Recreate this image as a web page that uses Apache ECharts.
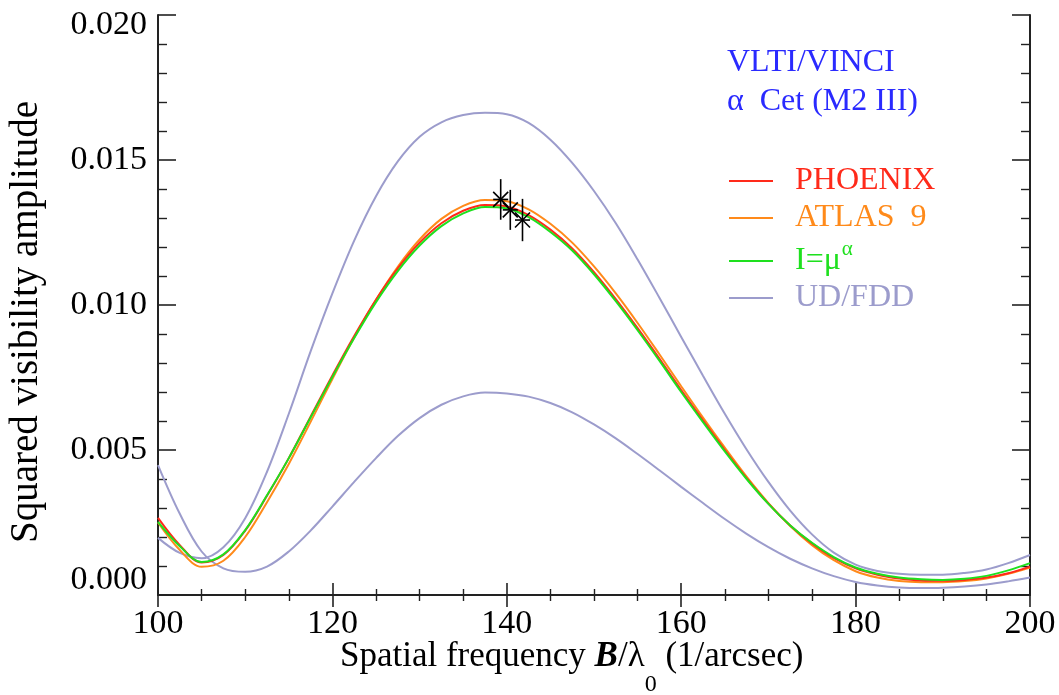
<!DOCTYPE html>
<html><head><meta charset="utf-8">
<script src="https://cdn.jsdelivr.net/npm/echarts@6/dist/echarts.min.js"></script>
<style>html,body{margin:0;padding:0;background:#fff}#c{width:1059px;height:695px}</style>
</head><body><div id="c"></div>
<script>
// spatial frequency B/lambda0 (1/arcsec), sampled every 2.5
const freq = [100,102.5,105,107.5,110,112.5,115,117.5,120,122.5,125,127.5,130,132.5,135,137.5,140,142.5,145,147.5,150,152.5,155,157.5,160,162.5,165,167.5,170,172.5,175,177.5,180,182.5,185,187.5,190,192.5,195,197.5,200];
const phoenix = [0.00266,0.00172,0.00112,0.00138,0.00222,0.00342,0.00472,0.00615,0.00757,0.00893,0.01018,0.01126,0.01215,0.01282,0.01325,0.01345,0.01340,0.01310,0.01260,0.01195,0.01113,0.01020,0.00920,0.00815,0.00707,0.00602,0.00500,0.00403,0.00315,0.00240,0.00178,0.00128,0.00092,0.00070,0.00057,0.00050,0.00049,0.00052,0.00060,0.00075,0.00098];
const atlas9  = [0.00250,0.00155,0.00097,0.00118,0.00200,0.00320,0.00452,0.00597,0.00745,0.00888,0.01018,0.01132,0.01226,0.01297,0.01342,0.01362,0.01358,0.01330,0.01280,0.01215,0.01133,0.01040,0.00938,0.00830,0.00720,0.00612,0.00508,0.00408,0.00317,0.00238,0.00172,0.00120,0.00082,0.00060,0.00048,0.00044,0.00044,0.00048,0.00057,0.00073,0.00095];
const powerLaw= [0.00252,0.00168,0.00114,0.00140,0.00224,0.00344,0.00472,0.00612,0.00752,0.00886,0.01010,0.01117,0.01205,0.01272,0.01316,0.01338,0.01333,0.01303,0.01252,0.01188,0.01106,0.01013,0.00913,0.00808,0.00700,0.00596,0.00495,0.00400,0.00314,0.00240,0.00180,0.00131,0.00095,0.00073,0.00060,0.00054,0.00052,0.00056,0.00066,0.00085,0.00110];
const udHigh  = [0.00197,0.00145,0.00127,0.00165,0.00265,0.00425,0.00625,0.00840,0.01040,0.01222,0.01375,0.01495,0.01580,0.01630,0.01655,0.01663,0.01658,0.01628,0.01570,0.01490,0.01393,0.01282,0.01157,0.01025,0.00890,0.00756,0.00625,0.00502,0.00390,0.00291,0.00209,0.00146,0.00105,0.00083,0.00073,0.00070,0.00070,0.00076,0.00088,0.00110,0.00138];
const fddLow  = [0.00448,0.00280,0.00150,0.00092,0.00080,0.00098,0.00150,0.00222,0.00305,0.00390,0.00472,0.00548,0.00610,0.00656,0.00685,0.00698,0.00695,0.00684,0.00662,0.00630,0.00588,0.00540,0.00486,0.00430,0.00373,0.00317,0.00262,0.00211,0.00165,0.00125,0.00092,0.00065,0.00045,0.00033,0.00026,0.00024,0.00025,0.00029,0.00036,0.00047,0.00060];
// VLTI/VINCI measurements
const obsFreq = [139.3, 140.4, 141.8];
const obsV2   = [0.01364, 0.01328, 0.01293];
const obsErr  = [0.00070, 0.00069, 0.00073];
// axes
const xMin = 100, xMax = 200, xStep = 20;
const yMin = 0, yMax = 0.020, yStep = 0.005;

const FONT = 'Liberation Serif';
const C = {red:'#ff2a1a', orange:'#ff8a1a', green:'#1ee01e', lav:'#9c9ccc', blue:'#2a2aff'};
const pairs = ys => freq.map((f,i)=>[f, ys[i]]);

const axisLine = {show:true, lineStyle:{color:'#222', width:2}};
const xTick = {show:true, inside:true, length:12, lineStyle:{color:'#222', width:1.6}};
const xMinor = {show:true, splitNumber:4, length:6, lineStyle:{color:'#222', width:1.4}};
const yTick = {show:true, inside:true, length:18, lineStyle:{color:'#222', width:1.6}};
const yMinor = {show:true, splitNumber:5, length:9, lineStyle:{color:'#222', width:1.4}};

const lineSeries = (name, ys, color) => ({
  type:'line', name, data:pairs(ys), smooth:0.35, symbol:'none', showSymbol:false,
  lineStyle:{color, width:2}, itemStyle:{color}, z:3
});

const chart = echarts.init(document.getElementById('c'), null, {renderer:'canvas'});
chart.setOption({
  animation:false,
  backgroundColor:'#fff',
  grid:{left:158, right:29, top:15, bottom:100, containLabel:false, outerBoundsMode:'none'},
  xAxis:[
    {type:'value', position:'bottom', min:xMin, max:xMax, interval:xStep,
     axisLine, axisTick:xTick, minorTick:xMinor, splitLine:{show:false},
     axisLabel:{fontFamily:FONT, fontSize:34, color:'#000', margin:12}},
    {type:'value', position:'top', min:xMin, max:xMax, interval:xStep,
     axisLine, axisTick:xTick, minorTick:xMinor, splitLine:{show:false}, axisLabel:{show:false}}
  ],
  yAxis:[
    {type:'value', position:'left', min:yMin, max:yMax, interval:yStep,
     axisLine, axisTick:yTick, minorTick:yMinor, splitLine:{show:false},
     axisLabel:{fontFamily:FONT, fontSize:34, color:'#000', margin:11,
       formatter:v => {
         const s = v.toFixed(3);
         if (Math.abs(v - yMax) < 1e-9) return '{top|' + s + '}';
         if (Math.abs(v - yMin) < 1e-9) return '{bot|' + s + '}';
         return s;
       },
       rich:{top:{fontFamily:FONT, fontSize:34, color:'#000', padding:[20,0,0,0]},
             bot:{fontFamily:FONT, fontSize:34, color:'#000', padding:[0,0,30,0]}}}},
    {type:'value', position:'right', min:yMin, max:yMax, interval:yStep,
     axisLine, axisTick:yTick, minorTick:yMinor, splitLine:{show:false}, axisLabel:{show:false}}
  ],
  legend:{
    orient:'vertical', left:724, top:160, itemWidth:44, itemHeight:14, itemGap:5,
    icon:'path://M0,6 L44,6 L44,8 L0,8 Z',
    textStyle:{fontFamily:FONT, fontSize:32, lineHeight:32, padding:[0,0,0,17],
      rich:{n:{fontFamily:FONT, fontSize:32, lineHeight:32, color:C.green},
            sup:{fontFamily:FONT, fontSize:21, lineHeight:8, verticalAlign:'top', color:C.green, padding:[-6,0,0,1]}}},
    formatter: n => n === 'I=μα' ? '{n|I=μ}{sup|α}' : n,
    data:[
      {name:'PHOENIX', textStyle:{color:C.red}, itemStyle:{color:C.red}},
      {name:'ATLAS  9', textStyle:{color:C.orange}, itemStyle:{color:C.orange}},
      {name:'I=μα', textStyle:{color:C.green}, itemStyle:{color:C.green}},
      {name:'UD/FDD', textStyle:{color:C.lav}, itemStyle:{color:C.lav}}
    ]
  },
  graphic:[
    {type:'text', x:727, y:63, style:{text:'VLTI/VINCI', font:'32px "Liberation Serif"', fill:C.blue, verticalAlign:'middle'}},
    {type:'text', x:727, y:102, style:{text:'α  Cet (M2 III)', font:'32px "Liberation Serif"', fill:C.blue, verticalAlign:'middle'}},
    {type:'text', x:27, y:322, rotation:Math.PI/2,
     style:{text:'Squared visibility amplitude', font:'39px "Liberation Serif"', fill:'#000', align:'center', verticalAlign:'middle'}},
    {type:'text', x:340, y:657,
     style:{text:'{t|Spatial frequency }{b|B}{t|/λ}{s|0}{t| (1/arcsec)}', verticalAlign:'middle', fill:'#000',
       rich:{t:{fontFamily:FONT, fontSize:35, fill:'#000'},
             b:{fontFamily:FONT, fontSize:35, fontWeight:'bold', fontStyle:'italic', fill:'#000'},
             s:{fontFamily:FONT, fontSize:24, fill:'#000', padding:[56,0,0,0]}}}}
  ],
  series:[
    lineSeries('UD/FDD', udHigh, C.lav),
    lineSeries('UD/FDD', fddLow, C.lav),
    lineSeries('ATLAS  9', atlas9, C.orange),
    lineSeries('PHOENIX', phoenix, C.red),
    lineSeries('I=μα', powerLaw, C.green),
    {type:'custom', name:'VINCI', z:10,
     data: obsFreq.map((f,i)=>[f, obsV2[i], obsErr[i]]),
     encode:{x:0, y:1},
     renderItem:(params, api) => {
       const x = api.value(0), y = api.value(1), e = api.value(2);
       const c = api.coord([x, y]), t = api.coord([x, y + e]), b = api.coord([x, y - e]);
       const r = 7.5, st = {stroke:'#000', lineWidth:1.6};
       return {type:'group', children:[
         {type:'line', shape:{x1:c[0], y1:t[1], x2:c[0], y2:b[1]}, style:st},
         {type:'line', shape:{x1:c[0]-r, y1:c[1]-r, x2:c[0]+r, y2:c[1]+r}, style:st},
         {type:'line', shape:{x1:c[0]-r, y1:c[1]+r, x2:c[0]+r, y2:c[1]-r}, style:st},
         {type:'line', shape:{x1:c[0]-r, y1:c[1], x2:c[0]+r, y2:c[1]}, style:st}
       ]};
     }}
  ]
});
</script></body></html>
